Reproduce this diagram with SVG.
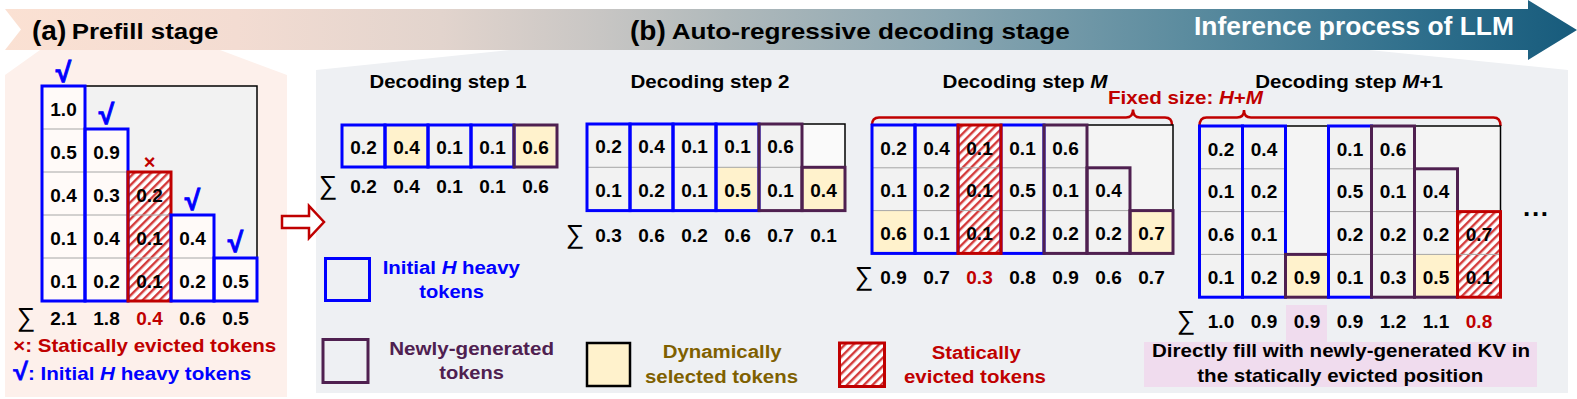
<svg xmlns="http://www.w3.org/2000/svg" width="1577" height="399" viewBox="0 0 1577 399">
<defs>
<linearGradient id="bannerGrad" gradientUnits="userSpaceOnUse" x1="0" y1="0" x2="1577" y2="0">
<stop offset="0" stop-color="#fbe1d3"/>
<stop offset="0.15" stop-color="#f3dcd2"/>
<stop offset="0.28" stop-color="#e2d4cd"/>
<stop offset="0.38" stop-color="#c8c6c4"/>
<stop offset="0.46" stop-color="#b0b9bb"/>
<stop offset="0.6" stop-color="#8aa6b1"/>
<stop offset="0.75" stop-color="#5c8c9f"/>
<stop offset="0.9" stop-color="#2f6f8c"/>
<stop offset="1" stop-color="#175b7c"/>
</linearGradient>
<pattern id="hatch" width="6" height="6" patternUnits="userSpaceOnUse" patternTransform="rotate(45)">
<rect width="6" height="6" fill="#ffffff"/>
<rect width="2.4" height="6" fill="#d43a3a"/>
</pattern>
<style>
.txt{font-family:"Liberation Sans",Arial,sans-serif;font-weight:bold}
.n{font-family:"Liberation Sans",Arial,sans-serif;font-weight:bold;font-size:19px;text-anchor:middle;fill:#000}
.t{font-family:"Liberation Sans",Arial,sans-serif;font-weight:bold;font-size:18.5px;text-anchor:middle;fill:#000}
.lg{font-family:"Liberation Sans",Arial,sans-serif;font-weight:bold;font-size:18px;text-anchor:middle}
.sig{font-family:"Liberation Sans",Arial,sans-serif;font-size:26px;text-anchor:middle;fill:#000}
.chk{font-family:"Liberation Sans",Arial,sans-serif;font-weight:bold;font-size:28px;text-anchor:middle;fill:#0000ff;stroke:#0000ff;stroke-width:0.9}
.ca{fill:#fffaf8}
.c{fill:#f2f2f2}
.y{fill:#fff2cc}
.h{fill:url(#hatch)}
.sep{stroke:#a6a6a6;stroke-width:1;fill:none}
.bl{fill:none;stroke:#0000ff;stroke-width:3}
.pu{fill:none;stroke:#4f2050;stroke-width:3}
.rd{fill:none;stroke:#c00000;stroke-width:3}
.fr{stroke:#000;stroke-width:1.5}
.red{fill:#c00000}
.blue{fill:#0000ff}
.purp{fill:#4f2050}
.olive{fill:#7f6000}
.it{font-style:italic}
</style>
</defs>

<!-- banner -->
<g id="banner">
<path d="M5,9 L1528,9 L1528,0 L1577,30 L1528,60 L1528,50 L5,50 L21,29.5 Z" fill="url(#bannerGrad)"/>
<text x="32" y="39.5" class="txt" font-size="28" fill="#000">(a)</text>
<text x="71.7" y="39" class="txt" font-size="22" fill="#000" textLength="146.7" lengthAdjust="spacingAndGlyphs">Prefill stage</text>
<text x="630" y="39.5" class="txt" font-size="28" fill="#000">(b)</text>
<text x="671.7" y="38.5" class="txt" font-size="22" fill="#000" textLength="398" lengthAdjust="spacingAndGlyphs">Auto-regressive decoding stage</text>
<text x="1194" y="35" class="txt" font-size="26" fill="#ffffff" textLength="320" lengthAdjust="spacingAndGlyphs">Inference process of LLM</text>
</g>

<!-- panels -->
<polygon id="panelA" points="40,50 220,50 287,75 287,397 5,397 5,75" fill="#fdf0eb"/>
<polygon id="panelB" points="510,50 1369,50 1568,70 1568,393 316,393 316,70" fill="#eef0f3"/>

<!-- (a) prefill matrix -->
<g id="prefill">
<rect x="42" y="86" width="215" height="215" fill="#f2f2f2" class="fr"/>
<rect x="42" y="86" width="43" height="215" class="ca"/>
<rect x="85" y="129" width="43" height="172" class="ca"/>
<rect x="128" y="172" width="43" height="129" class="h"/>
<rect x="171" y="215" width="43" height="86" class="ca"/>
<rect x="214" y="258" width="43" height="43" class="ca"/>
<path class="sep" d="M42,129h43M42,172h86M42,215h129M42,258h172"/>
<rect x="42" y="86" width="43" height="215" class="bl"/>
<rect x="85" y="129" width="43" height="172" class="bl"/>
<rect x="128" y="172" width="43" height="129" class="rd"/>
<rect x="171" y="215" width="43" height="86" class="bl"/>
<rect x="214" y="258" width="43" height="43" class="bl"/>
<text class="n" x="63.5" y="116">1.0</text>
<text class="n" x="63.5" y="159">0.5</text>
<text class="n" x="63.5" y="202">0.4</text>
<text class="n" x="63.5" y="245">0.1</text>
<text class="n" x="63.5" y="288">0.1</text>
<text class="n" x="106.5" y="159">0.9</text>
<text class="n" x="106.5" y="202">0.3</text>
<text class="n" x="106.5" y="245">0.4</text>
<text class="n" x="106.5" y="288">0.2</text>
<text class="n" x="149.5" y="202">0.2</text>
<text class="n" x="149.5" y="245">0.1</text>
<text class="n" x="149.5" y="288">0.1</text>
<text class="n" x="192.5" y="245">0.4</text>
<text class="n" x="192.5" y="288">0.2</text>
<text class="n" x="235.5" y="288">0.5</text>
<text class="chk" x="63.5" y="82">√</text>
<text class="chk" x="106.5" y="124">√</text>
<text class="chk" x="192.5" y="210">√</text>
<text class="chk" x="235.5" y="252">√</text>
<text class="txt red" x="149.5" y="169" font-size="20" text-anchor="middle">×</text>
<text class="sig" x="26" y="326">∑</text>
<text class="n" x="63.5" y="325">2.1</text>
<text class="n" x="106.5" y="325">1.8</text>
<text class="n red" x="149.5" y="325">0.4</text>
<text class="n" x="192.5" y="325">0.6</text>
<text class="n" x="235.5" y="325">0.5</text>
</g>

<g id="legendA">
<text class="txt red" x="13.3" y="352" font-size="18.5" textLength="263" lengthAdjust="spacingAndGlyphs">×: Statically evicted tokens</text>
<text class="txt blue" x="13.3" y="380" font-size="18.5" textLength="238" lengthAdjust="spacingAndGlyphs"><tspan font-size="24" stroke="#0000ff" stroke-width="0.6">√</tspan>: Initial <tspan class="it">H</tspan> heavy tokens</text>
</g>

<!-- connectors -->
<g id="connectors">
<path d="M282,216 L309,216 L309,206 L324,222 L309,238 L309,228 L282,228 Z" fill="#ffffff" stroke="#c00000" stroke-width="2.5" stroke-linejoin="miter"/>
<path d="M872,125 Q872,117.5 879,117.5 L1126,117.5 Q1133,117.5 1133,109.5 Q1133,117.5 1140,117.5 L1165,117.5 Q1172,117.5 1172,125" fill="none" stroke="#c00000" stroke-width="2.5"/>
<path d="M1199.5,126 Q1199.5,117.5 1206.5,117.5 L1237,117.5 Q1244,117.5 1244,110 Q1244,117.5 1251,117.5 L1493.5,117.5 Q1500.5,117.5 1500.5,126" fill="none" stroke="#c00000" stroke-width="2.5"/>
<text class="txt red" x="1108" y="104" font-size="18" textLength="155" lengthAdjust="spacingAndGlyphs">Fixed size: <tspan class="it">H</tspan>+<tspan class="it">M</tspan></text>
</g>

<!-- step 1 -->
<g id="step1">
<text class="t" x="448" y="88" textLength="157" lengthAdjust="spacingAndGlyphs">Decoding step 1</text>
<rect x="342" y="125" width="43" height="42" class="c"/>
<rect x="385" y="125" width="43" height="42" class="y"/>
<rect x="428" y="125" width="43" height="42" class="c"/>
<rect x="471" y="125" width="43" height="42" class="c"/>
<rect x="514" y="125" width="43" height="42" class="y"/>
<rect x="342" y="125" width="43" height="42" class="bl"/>
<rect x="385" y="125" width="43" height="42" class="bl"/>
<rect x="428" y="125" width="43" height="42" class="bl"/>
<rect x="471" y="125" width="43" height="42" class="bl"/>
<rect x="514" y="125" width="43" height="42" class="pu"/>
<text class="n" x="363.5" y="154">0.2</text>
<text class="n" x="406.5" y="154">0.4</text>
<text class="n" x="449.5" y="154">0.1</text>
<text class="n" x="492.5" y="154">0.1</text>
<text class="n" x="535.5" y="154">0.6</text>
<text class="sig" x="328" y="194">∑</text>
<text class="n" x="363.5" y="193">0.2</text>
<text class="n" x="406.5" y="193">0.4</text>
<text class="n" x="449.5" y="193">0.1</text>
<text class="n" x="492.5" y="193">0.1</text>
<text class="n" x="535.5" y="193">0.6</text>
</g>

<!-- step 2 -->
<g id="step2">
<text class="t" x="710" y="88" textLength="159" lengthAdjust="spacingAndGlyphs">Decoding step 2</text>
<rect x="587" y="124" width="258" height="86.6" fill="#fafafa" class="fr"/>
<rect x="587" y="124" width="172" height="86.6" class="c"/>
<rect x="716" y="167.3" width="43" height="43.3" class="y"/>
<rect x="759" y="124" width="43" height="86.6" class="c"/>
<rect x="802" y="167.3" width="43" height="43.3" class="y"/>
<path class="sep" d="M587,167.3h215"/>
<rect x="587" y="124" width="43" height="86.6" class="bl"/>
<rect x="630" y="124" width="43" height="86.6" class="bl"/>
<rect x="673" y="124" width="43" height="86.6" class="bl"/>
<rect x="716" y="124" width="43" height="86.6" class="bl"/>
<rect x="759" y="124" width="43" height="86.6" class="pu"/>
<rect x="802" y="167.3" width="43" height="43.3" class="pu"/>
<text class="n" x="608.5" y="153">0.2</text>
<text class="n" x="651.5" y="153">0.4</text>
<text class="n" x="694.5" y="153">0.1</text>
<text class="n" x="737.5" y="153">0.1</text>
<text class="n" x="780.5" y="153">0.6</text>
<text class="n" x="608.5" y="196.5">0.1</text>
<text class="n" x="651.5" y="196.5">0.2</text>
<text class="n" x="694.5" y="196.5">0.1</text>
<text class="n" x="737.5" y="196.5">0.5</text>
<text class="n" x="780.5" y="196.5">0.1</text>
<text class="n" x="823.5" y="196.5">0.4</text>
<text class="sig" x="575" y="242.5">∑</text>
<text class="n" x="608.5" y="241.5">0.3</text>
<text class="n" x="651.5" y="241.5">0.6</text>
<text class="n" x="694.5" y="241.5">0.2</text>
<text class="n" x="737.5" y="241.5">0.6</text>
<text class="n" x="780.5" y="241.5">0.7</text>
<text class="n" x="823.5" y="241.5">0.1</text>
</g>

<!-- step M -->
<g id="stepM">
<text class="t" x="1025" y="87.5" textLength="165" lengthAdjust="spacingAndGlyphs">Decoding step <tspan class="it">M</tspan></text>
<rect x="872" y="125" width="301" height="128.4" fill="#f4f4f4" class="fr"/>
<rect x="872" y="125" width="86" height="128.4" class="c"/>
<rect x="872" y="210.6" width="43" height="42.8" class="y"/>
<rect x="958" y="125" width="43" height="128.4" class="h"/>
<rect x="1001" y="125" width="86" height="128.4" class="c"/>
<rect x="1087" y="167.8" width="43" height="85.6" class="c"/>
<rect x="1130" y="210.6" width="43" height="42.8" class="y"/>
<path class="sep" d="M872,167.8h215M872,210.6h258"/>
<rect x="872" y="125" width="43" height="128.4" class="bl"/>
<rect x="915" y="125" width="43" height="128.4" class="bl"/>
<rect x="1001" y="125" width="43" height="128.4" class="bl"/>
<rect x="1044" y="125" width="43" height="128.4" class="pu"/>
<rect x="1087" y="167.8" width="43" height="85.6" class="pu"/>
<rect x="1130" y="210.6" width="43" height="42.8" class="pu"/>
<rect x="958" y="125" width="43" height="128.4" class="rd"/>
<text class="n" x="893.5" y="154.5">0.2</text>
<text class="n" x="936.5" y="154.5">0.4</text>
<text class="n" x="979.5" y="154.5">0.1</text>
<text class="n" x="1022.5" y="154.5">0.1</text>
<text class="n" x="1065.5" y="154.5">0.6</text>
<text class="n" x="893.5" y="197">0.1</text>
<text class="n" x="936.5" y="197">0.2</text>
<text class="n" x="979.5" y="197">0.1</text>
<text class="n" x="1022.5" y="197">0.5</text>
<text class="n" x="1065.5" y="197">0.1</text>
<text class="n" x="1108.5" y="197">0.4</text>
<text class="n" x="893.5" y="240">0.6</text>
<text class="n" x="936.5" y="240">0.1</text>
<text class="n" x="979.5" y="240">0.1</text>
<text class="n" x="1022.5" y="240">0.2</text>
<text class="n" x="1065.5" y="240">0.2</text>
<text class="n" x="1108.5" y="240">0.2</text>
<text class="n" x="1151.5" y="240">0.7</text>
<text class="sig" x="864" y="285">∑</text>
<text class="n" x="893.5" y="284">0.9</text>
<text class="n" x="936.5" y="284">0.7</text>
<text class="n red" x="979.5" y="284">0.3</text>
<text class="n" x="1022.5" y="284">0.8</text>
<text class="n" x="1065.5" y="284">0.9</text>
<text class="n" x="1108.5" y="284">0.6</text>
<text class="n" x="1151.5" y="284">0.7</text>
</g>

<!-- step M+1 -->
<g id="stepM1">
<text class="t" x="1349" y="87.5" textLength="187.7" lengthAdjust="spacingAndGlyphs">Decoding step <tspan class="it">M</tspan>+1</text>
<rect x="1286" y="305" width="41" height="37" fill="#f0dcee"/>
<rect x="1199.5" y="126" width="301" height="171.2" fill="#f4f4f4" class="fr"/>
<rect x="1199.5" y="126" width="86" height="171.2" class="c"/>
<rect x="1285.5" y="254.4" width="43" height="42.8" class="y"/>
<rect x="1328.5" y="126" width="86" height="171.2" class="c"/>
<rect x="1414.5" y="168.8" width="43" height="128.4" class="c"/>
<rect x="1414.5" y="254.4" width="43" height="42.8" class="y"/>
<rect x="1457.5" y="211.6" width="43" height="85.6" class="h"/>
<path class="sep" d="M1199.5,168.8h86M1328.5,168.8h86M1199.5,211.6h86M1328.5,211.6h129M1199.5,254.4h86M1328.5,254.4h172"/>
<rect x="1199.5" y="126" width="43" height="171.2" class="bl"/>
<rect x="1242.5" y="126" width="43" height="171.2" class="bl"/>
<rect x="1285.5" y="254.4" width="43" height="42.8" class="pu"/>
<rect x="1328.5" y="126" width="43" height="171.2" class="bl"/>
<rect x="1371.5" y="126" width="43" height="171.2" class="pu"/>
<rect x="1414.5" y="168.8" width="43" height="128.4" class="pu"/>
<rect x="1457.5" y="211.6" width="43" height="85.6" class="rd"/>
<text class="n" x="1221" y="155.5">0.2</text>
<text class="n" x="1264" y="155.5">0.4</text>
<text class="n" x="1350" y="155.5">0.1</text>
<text class="n" x="1393" y="155.5">0.6</text>
<text class="n" x="1221" y="198.3">0.1</text>
<text class="n" x="1264" y="198.3">0.2</text>
<text class="n" x="1350" y="198.3">0.5</text>
<text class="n" x="1393" y="198.3">0.1</text>
<text class="n" x="1436" y="198.3">0.4</text>
<text class="n" x="1221" y="241.1">0.6</text>
<text class="n" x="1264" y="241.1">0.1</text>
<text class="n" x="1350" y="241.1">0.2</text>
<text class="n" x="1393" y="241.1">0.2</text>
<text class="n" x="1436" y="241.1">0.2</text>
<text class="n" x="1479" y="241.1">0.7</text>
<text class="n" x="1221" y="283.9">0.1</text>
<text class="n" x="1264" y="283.9">0.2</text>
<text class="n" x="1307" y="283.9">0.9</text>
<text class="n" x="1350" y="283.9">0.1</text>
<text class="n" x="1393" y="283.9">0.3</text>
<text class="n" x="1436" y="283.9">0.5</text>
<text class="n" x="1479" y="283.9">0.1</text>
<text class="sig" x="1186" y="329">∑</text>
<text class="n" x="1221" y="328">1.0</text>
<text class="n" x="1264" y="328">0.9</text>
<text class="n" x="1307" y="328">0.9</text>
<text class="n" x="1350" y="328">0.9</text>
<text class="n" x="1393" y="328">1.2</text>
<text class="n" x="1436" y="328">1.1</text>
<text class="n red" x="1479" y="328">0.8</text>
<text class="txt" x="1523" y="216" font-size="26" fill="#000" textLength="25" lengthAdjust="spacing">...</text>
</g>

<!-- note -->
<g id="note">
<rect x="1144" y="342" width="393" height="45" fill="#f0dcee"/>
<text class="t" x="1341" y="357.3" font-size="19" textLength="378" lengthAdjust="spacingAndGlyphs">Directly fill with newly-generated KV in</text>
<text class="t" x="1340.3" y="381.7" font-size="19" textLength="286" lengthAdjust="spacingAndGlyphs">the statically evicted position</text>
</g>

<!-- legend (b) -->
<g id="legendH">
<rect x="325.5" y="258.5" width="44" height="42" class="bl"/>
<text class="lg blue" x="451.3" y="274.3" textLength="137.3" lengthAdjust="spacingAndGlyphs">Initial <tspan class="it">H</tspan> heavy</text>
<text class="lg blue" x="451.7" y="298.3" textLength="64.7" lengthAdjust="spacingAndGlyphs">tokens</text>
</g>
<g id="legendNew">
<rect x="323" y="339.5" width="45" height="43" class="pu"/>
<text class="lg purp" x="471.6" y="354.5" textLength="164.7" lengthAdjust="spacingAndGlyphs">Newly-generated</text>
<text class="lg purp" x="471.6" y="378.5" textLength="64.7" lengthAdjust="spacingAndGlyphs">tokens</text>
</g>
<g id="legendDyn">
<rect x="587" y="343" width="43" height="43" fill="#fff2cc" stroke="#000" stroke-width="2.5"/>
<text class="lg olive" x="722.2" y="358.3" textLength="119" lengthAdjust="spacingAndGlyphs">Dynamically</text>
<text class="lg olive" x="721.5" y="383.3" textLength="153" lengthAdjust="spacingAndGlyphs">selected tokens</text>
</g>
<g id="legendEvict">
<rect x="839.5" y="343" width="45" height="43.5" class="h"/>
<rect x="839.5" y="343" width="45" height="43.5" class="rd"/>
<text class="lg red" x="976.2" y="359" textLength="89" lengthAdjust="spacingAndGlyphs">Statically</text>
<text class="lg red" x="975" y="383.3" textLength="142" lengthAdjust="spacingAndGlyphs">evicted tokens</text>
</g>
</svg>
